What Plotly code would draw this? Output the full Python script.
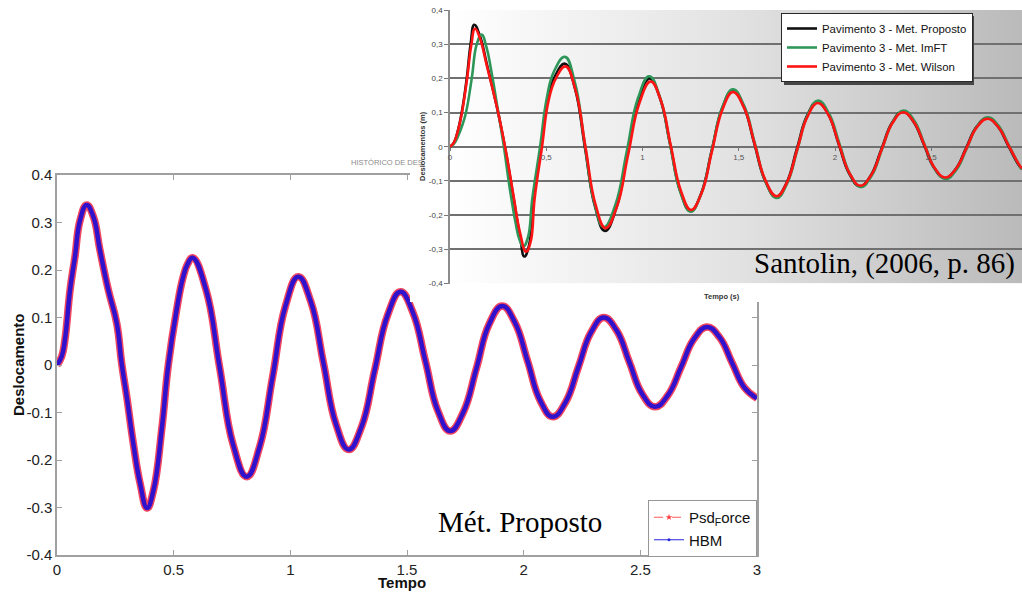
import base64
import plotly.graph_objects as go

# ---------------- data: main chart (Mét. Proposto) ----------------
tempo_main = [0, 0.02, 0.034, 0.056, 0.077, 0.099, 0.127,
              0.156, 0.184, 0.22, 0.256, 0.277, 0.299, 0.327, 0.356, 0.386,
              0.413, 0.449, 0.477, 0.513, 0.539, 0.56, 0.581,
              0.639, 0.697, 0.755, 0.813, 0.868, 0.924, 0.979, 1.034,
              1.088, 1.142, 1.196, 1.250, 1.306, 1.361, 1.417, 1.472,
              1.525, 1.579, 1.632, 1.685, 1.741, 1.797, 1.852, 1.908,
              1.962, 2.017, 2.071, 2.125, 2.180, 2.234, 2.289, 2.343,
              2.398, 2.453, 2.508, 2.563, 2.619, 2.675, 2.730, 2.786,
              2.840, 2.893, 2.947, 3.0]
psd_force = [0, 0.018, 0.053, 0.158, 0.228, 0.305, 0.337,
             0.312, 0.242, 0.158, 0.088, 0.004, -0.067, -0.165, -0.249, -0.301,
             -0.265, -0.135, 0.0, 0.117, 0.182, 0.213, 0.226,
             0.158, -0.005, -0.168, -0.235, -0.173, -0.025, 0.124, 0.186,
             0.133, 0.004, -0.125, -0.178, -0.129, -0.012, 0.105, 0.154,
             0.111, 0.008, -0.096, -0.139, -0.100, -0.008, 0.086, 0.124,
             0.090, 0.008, -0.075, -0.109, -0.078, -0.005, 0.069, 0.100,
             0.073, 0.006, -0.061, -0.088, -0.063, -0.004, 0.055, 0.080,
             0.058, 0.005, -0.048, -0.070]
hbm = [0, 0.018, 0.053, 0.158, 0.228, 0.305, 0.337,
       0.312, 0.242, 0.158, 0.088, 0.004, -0.067, -0.165, -0.249, -0.301,
       -0.265, -0.135, 0.0, 0.117, 0.182, 0.213, 0.226,
       0.158, -0.005, -0.168, -0.235, -0.173, -0.025, 0.124, 0.186,
       0.133, 0.004, -0.125, -0.178, -0.129, -0.012, 0.105, 0.154,
       0.111, 0.008, -0.096, -0.139, -0.100, -0.008, 0.086, 0.124,
       0.090, 0.008, -0.075, -0.109, -0.078, -0.005, 0.069, 0.100,
       0.073, 0.006, -0.061, -0.088, -0.063, -0.004, 0.055, 0.080,
       0.058, 0.005, -0.048, -0.070]
main_xticks = [0, 0.5, 1, 1.5, 2, 2.5, 3]
main_xtext = ["0", "0.5", "1", "1.5", "2", "2.5", "3"]
main_yticks = [-0.4, -0.3, -0.2, -0.1, 0, 0.1, 0.2, 0.3, 0.4]
main_ytext = ["-0.4", "-0.3", "-0.2", "-0.1", "0", "0.1", "0.2", "0.3", "0.4"]

# ---------------- data: inset (Santolin, 2006) ----------------
t_proposto = [0, 0.02, 0.04, 0.061, 0.087, 0.107, 0.126,
              0.155, 0.19, 0.243, 0.268, 0.294, 0.329, 0.364, 0.386,
              0.41, 0.433, 0.473, 0.507, 0.545, 0.597,
              0.649, 0.701, 0.753, 0.805, 0.863, 0.921, 0.979, 1.037,
              1.090, 1.144, 1.197, 1.25, 1.305, 1.359, 1.414, 1.468,
              1.525, 1.581, 1.638, 1.694, 1.748, 1.801, 1.855, 1.908,
              1.964, 2.019, 2.075, 2.13, 2.186, 2.241, 2.297, 2.352,
              2.407, 2.462, 2.516, 2.571, 2.626, 2.681, 2.735, 2.79,
              2.845, 2.90, 2.955, 2.971]
v_proposto = [0, 0.012, 0.045, 0.1, 0.2, 0.3, 0.357,
              0.325, 0.245, 0.118, 0.05, -0.028, -0.146, -0.263, -0.321,
              -0.29, -0.153, 0.0, 0.138, 0.206, 0.243,
              0.171, -0.002, -0.174, -0.246, -0.181, -0.023, 0.135, 0.200,
              0.143, 0.006, -0.131, -0.188, -0.136, -0.012, 0.113, 0.165,
              0.119, 0.009, -0.101, -0.147, -0.106, -0.008, 0.091, 0.132,
              0.096, 0.008, -0.080, -0.116, -0.084, -0.007, 0.071, 0.103,
              0.074, 0.006, -0.063, -0.092, -0.066, -0.004, 0.058, 0.084,
              0.060, 0.003, -0.054, -0.065]
t_imft = [0, 0.02, 0.045, 0.065, 0.083, 0.113, 0.139, 0.164,
          0.19, 0.215, 0.251, 0.28, 0.31, 0.34, 0.36, 0.381,
          0.405, 0.428, 0.468, 0.502, 0.54, 0.597,
          0.648, 0.699, 0.749, 0.80, 0.859, 0.918, 0.976, 1.035,
          1.089, 1.143, 1.196, 1.25, 1.305, 1.36, 1.415, 1.47,
          1.527, 1.584, 1.64, 1.697, 1.751, 1.805, 1.858, 1.912,
          1.968, 2.023, 2.079, 2.134, 2.19, 2.245, 2.301, 2.356,
          2.411, 2.466, 2.52, 2.575, 2.63, 2.685, 2.739, 2.794,
          2.849, 2.904, 2.959, 2.971]
v_imft = [0, 0.008, 0.035, 0.065, 0.1, 0.2, 0.3, 0.328,
          0.29, 0.22, 0.1, 0.0, -0.12, -0.22, -0.27, -0.292,
          -0.265, -0.15, 0.0, 0.14, 0.22, 0.263,
          0.190, 0.014, -0.162, -0.235, -0.170, -0.015, 0.141, 0.206,
          0.148, 0.008, -0.132, -0.190, -0.138, -0.011, 0.116, 0.168,
          0.121, 0.009, -0.103, -0.150, -0.108, -0.008, 0.093, 0.135,
          0.098, 0.009, -0.081, -0.118, -0.085, -0.006, 0.073, 0.106,
          0.077, 0.006, -0.065, -0.094, -0.068, -0.004, 0.060, 0.086,
          0.062, 0.003, -0.056, -0.066]
t_wilson = [0, 0.02, 0.04, 0.062, 0.089, 0.11, 0.13,
            0.155, 0.19, 0.243, 0.268, 0.294, 0.329, 0.364, 0.395,
            0.418, 0.44, 0.478, 0.512, 0.55, 0.60,
            0.652, 0.704, 0.756, 0.808, 0.867, 0.925, 0.984, 1.042,
            1.095, 1.147, 1.200, 1.252, 1.307, 1.361, 1.416, 1.470,
            1.527, 1.583, 1.640, 1.696, 1.750, 1.803, 1.857, 1.910,
            1.966, 2.021, 2.077, 2.132, 2.188, 2.243, 2.299, 2.354,
            2.409, 2.464, 2.518, 2.573, 2.628, 2.683, 2.737, 2.792,
            2.847, 2.902, 2.957, 2.971]
v_wilson = [0, 0.012, 0.044, 0.1, 0.2, 0.295, 0.345,
            0.318, 0.24, 0.118, 0.052, -0.024, -0.14, -0.252, -0.307,
            -0.28, -0.15, 0.0, 0.135, 0.2, 0.235,
            0.166, -0.002, -0.169, -0.238, -0.175, -0.024, 0.128, 0.191,
            0.136, 0.003, -0.130, -0.185, -0.135, -0.013, 0.110, 0.160,
            0.115, 0.008, -0.100, -0.145, -0.105, -0.009, 0.088, 0.128,
            0.093, 0.007, -0.079, -0.114, -0.083, -0.007, 0.070, 0.101,
            0.073, 0.006, -0.062, -0.090, -0.065, -0.004, 0.057, 0.082,
            0.059, 0.003, -0.053, -0.063]
inset_xticks = [0, 0.5, 1, 1.5, 2, 2.5]
inset_xtext = ["0", "0,5", "1", "1,5", "2", "2,5"]
inset_yticks = [-0.4, -0.3, -0.2, -0.1, 0, 0.1, 0.2, 0.3, 0.4]
inset_ytext = ["-0,4", "-0,3", "-0,2", "-0,1", "0", "0,1", "0,2", "0,3", "0,4"]

# ---------------- layout helpers ----------------
W, H = 1022, 593


def px(p):
    return p / W


def py(p):
    return 1 - p / H


SANS = "Liberation Sans, Arial, sans-serif"
SERIF = "Liberation Serif, Times New Roman, serif"
SMOOTH = 1.3

fig = go.Figure()

# main chart curves
fig.add_trace(go.Scatter(x=tempo_main, y=psd_force, mode="lines", xaxis="x", yaxis="y",
                         line=dict(color="rgb(240,70,95)", width=7.5, shape="spline", smoothing=SMOOTH),
                         showlegend=False, hoverinfo="skip"))
fig.add_trace(go.Scatter(x=tempo_main, y=hbm, mode="lines", xaxis="x", yaxis="y",
                         line=dict(color="rgb(48,18,205)", width=4.5, shape="spline", smoothing=SMOOTH),
                         showlegend=False, hoverinfo="skip"))
# legend samples for the main chart
fig.add_trace(go.Scatter(x=[None], y=[None], mode="lines+markers", name="Psd<sub>F</sub>orce",
                         xaxis="x", yaxis="y", legend="legend",
                         line=dict(color="rgb(255,90,90)", width=1, dash="dash"),
                         marker=dict(symbol="star", size=5, color="rgb(255,60,60)")))
fig.add_trace(go.Scatter(x=[None], y=[None], mode="lines+markers", name="HBM",
                         xaxis="x", yaxis="y", legend="legend",
                         line=dict(color="rgb(40,40,220)", width=1),
                         marker=dict(symbol="circle", size=3, color="rgb(40,40,220)")))

# white cover panel for the inset (its own subplot, drawn above the main chart)
fig.add_trace(go.Scatter(x=[0, 1, 1, 0, 0], y=[0, 0, 1, 1, 0], mode="lines", fill="toself",
                         fillcolor="white", line=dict(width=0, color="white"),
                         xaxis="x2", yaxis="y2", showlegend=False, hoverinfo="skip"))

# inset curves
fig.add_trace(go.Scatter(x=t_proposto, y=v_proposto, mode="lines", name="Pavimento 3 - Met. Proposto",
                         xaxis="x3", yaxis="y3", legend="legend2",
                         line=dict(color="#111111", width=2.6, shape="spline", smoothing=SMOOTH)))
fig.add_trace(go.Scatter(x=t_imft, y=v_imft, mode="lines", name="Pavimento 3 - Met. ImFT",
                         xaxis="x3", yaxis="y3", legend="legend2",
                         line=dict(color="rgb(46,150,88)", width=2.6, shape="spline", smoothing=SMOOTH)))
fig.add_trace(go.Scatter(x=t_wilson, y=v_wilson, mode="lines", name="Pavimento 3 - Met. Wilson",
                         xaxis="x3", yaxis="y3", legend="legend2",
                         line=dict(color="rgb(255,20,20)", width=2.6, shape="spline", smoothing=SMOOTH)))

axis_grey = "rgb(160,160,160)"
inset_x_max = (W - 450) / 192.5
y3_dom = [py(283.5), py(10)]
zero_pos = y3_dom[0] + (y3_dom[1] - y3_dom[0]) * 0.5

svg = ('<svg xmlns="http://www.w3.org/2000/svg" width="200" height="20" viewBox="0 0 200 20" '
       'preserveAspectRatio="none"><defs><linearGradient id="g" x1="0" y1="0" x2="1" y2="0">'
       '<stop offset="0" stop-color="#ffffff"/><stop offset="0.5" stop-color="#e2e2e2"/>'
       '<stop offset="1" stop-color="#bababa"/></linearGradient></defs>'
       '<rect x="0" y="0" width="200" height="20" fill="url(#g)"/></svg>')
svg_uri = "data:image/svg+xml;base64," + base64.b64encode(svg.encode()).decode()

# legend of the inset and its drop shadow
LG2_X, LG2_Y, LG2_W, LG2_H = 781, 13, 190, 69

fig.update_layout(
    width=W, height=H,
    margin=dict(l=0, r=0, t=0, b=0),
    paper_bgcolor="white", plot_bgcolor="rgba(0,0,0,0)",
    showlegend=True,
    xaxis=dict(domain=[px(57), px(757)], range=[0, 3], tickvals=main_xticks, ticktext=main_xtext,
               ticks="inside", ticklen=5, tickcolor=axis_grey, showline=True, linecolor=axis_grey,
               linewidth=1.5, mirror="ticks", showgrid=False, zeroline=False, automargin=False,
               tickfont=dict(family=SANS, size=15, color="#222")),
    yaxis=dict(domain=[py(555), py(175)], range=[-0.4, 0.4], tickvals=main_yticks, ticktext=main_ytext,
               ticks="inside", ticklen=5, tickcolor=axis_grey, showline=True, linecolor=axis_grey,
               linewidth=1.5, mirror="ticks", showgrid=False, zeroline=False, automargin=False,
               tickfont=dict(family=SANS, size=15, color="#222")),
    xaxis2=dict(domain=[px(410), 1], range=[0.02, 0.98], visible=False, anchor="y2", automargin=False),
    yaxis2=dict(domain=[py(302), 1], range=[0.02, 0.98], visible=False, anchor="x2", automargin=False),
    xaxis3=dict(domain=[px(450), 1], range=[0, inset_x_max], anchor="free", position=zero_pos,
                tickvals=inset_xticks, ticktext=inset_xtext, ticks="outside", ticklen=3,
                tickcolor="rgb(120,120,120)", showline=False, showgrid=False, zeroline=False,
                automargin=False, tickfont=dict(family=SANS, size=8, color="#555")),
    yaxis3=dict(domain=y3_dom, range=[-0.4, 0.4], anchor="x3", tickvals=inset_yticks,
                ticktext=inset_ytext, ticks="outside", ticklen=4, tickcolor="rgb(120,120,120)",
                showline=True, linecolor="rgb(140,140,140)", linewidth=1.5,
                showgrid=True, gridcolor="rgb(112,112,112)", gridwidth=1.7,
                zeroline=True, zerolinecolor="rgb(112,112,112)", zerolinewidth=1.7,
                automargin=False, tickfont=dict(family=SANS, size=8, color="#444")),
    legend=dict(x=px(648), y=py(500), xanchor="left", yanchor="top", bgcolor="white",
                bordercolor="rgb(150,150,150)", borderwidth=1, itemwidth=30, tracegroupgap=0,
                font=dict(family=SANS, size=15, color="#111")),
    legend2=dict(x=px(LG2_X), y=py(LG2_Y), xanchor="left", yanchor="top", bgcolor="white",
                 bordercolor="rgb(40,40,40)", borderwidth=1, itemwidth=30, tracegroupgap=0,
                 font=dict(family=SANS, size=11.4, color="#111")),
    images=[dict(source=svg_uri, xref="x3", yref="y3", x=0, y=0.4, sizex=inset_x_max, sizey=0.8,
                 sizing="stretch", layer="below", xanchor="left", yanchor="top")],
    shapes=[dict(type="rect", xref="paper", yref="paper", layer="above",
                 x0=px(LG2_X + 3), x1=px(LG2_X + LG2_W + 3), y0=py(LG2_Y + 3), y1=py(LG2_Y + LG2_H + 3),
                 fillcolor="rgb(70,70,70)", line=dict(width=0))],
    annotations=[
        dict(text="<b>Tempo</b>", x=px(402), y=py(582), xref="paper", yref="paper", showarrow=False,
             font=dict(family=SANS, size=15, color="#111"), xanchor="center", yanchor="middle"),
        dict(text="<b>Deslocamento</b>", x=px(18), y=py(365), xref="paper", yref="paper",
             showarrow=False, textangle=-90, font=dict(family=SANS, size=15, color="#111"),
             xanchor="center", yanchor="middle"),
        dict(text="HISTÓRICO DE DES", x=px(349), y=py(162), xref="paper", yref="paper", showarrow=False,
             font=dict(family=SANS, size=7.5, color="#8a8a8a"), xanchor="left", yanchor="middle"),
        dict(text="Mét. Proposto", x=px(436), y=py(522), xref="paper", yref="paper", showarrow=False,
             font=dict(family=SERIF, size=29, color="#000"), xanchor="left", yanchor="middle"),
        dict(text="Santolin, (2006, p. 86)", x=px(752), y=py(263), xref="paper", yref="paper",
             showarrow=False, font=dict(family=SERIF, size=29, color="#000"),
             xanchor="left", yanchor="middle"),
        dict(text="<b>Tempo (s)</b>", x=px(722), y=py(296), xref="paper", yref="paper", showarrow=False,
             font=dict(family=SANS, size=7.5, color="#333"), xanchor="center", yanchor="middle"),
        dict(text="<b>Deslocamentos (m)</b>", x=px(422), y=py(146), xref="paper", yref="paper",
             showarrow=False, textangle=-90, font=dict(family=SANS, size=7.5, color="#333"),
             xanchor="center", yanchor="middle"),
    ],
)

fig.write_html("out.html", config={"displayModeBar": False},
               post_script="document.body.style.margin='0px';")
